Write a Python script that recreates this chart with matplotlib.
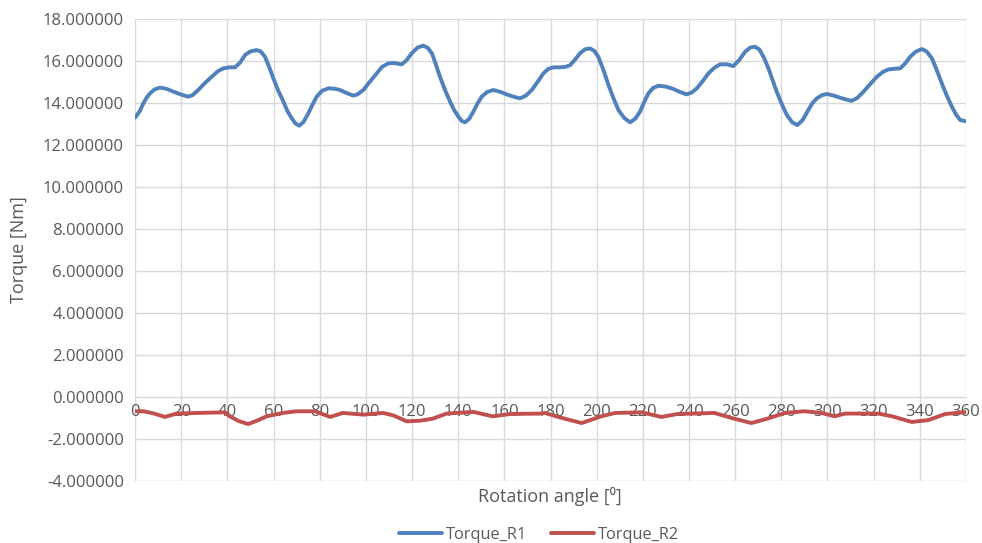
import matplotlib
matplotlib.use("Agg")
import matplotlib.pyplot as plt

# values
angle_r1 = [0, 2, 3.6, 5, 6.5, 8.5, 10.8, 13.5, 16.6, 20, 23, 25, 27.4, 30, 33.2, 36, 38.3,
            41, 43.3, 45.5, 47.7, 50, 52.7, 54.5, 56.3, 58, 59.9, 62, 64.3, 66, 67.9, 69.5,
            71.2, 73, 75.1, 77, 78.7, 81, 83.8, 86.5, 88.8, 91.5, 94.6, 96.5, 98.9, 101.5,
            104.7, 107, 109.8, 112.5, 115.5, 117.5, 119.9, 122.5, 124.9, 126.8, 128.6,
            130.3, 132.1, 134.3, 136.5, 138.3, 140.1, 141.5, 143, 144.8, 146.6, 148.4,
            150.2, 152.5, 155.2, 158, 161, 164, 166.8, 169.3, 171.9, 174.5, 176.9, 179,
            181.2, 184.1, 186.5, 188.5, 190.5, 192.8, 195, 197.1, 199, 200.7, 203, 205.1,
            207.3, 209.4, 212, 214.5, 216.7, 218.8, 220.6, 222.4, 224.5, 226.8, 230, 233.2,
            236, 239, 241.2, 243.4, 246, 248.4, 251, 253.5, 256.5, 259.2, 261.8, 264.3,
            266.5, 268.6, 270.5, 272.5, 274.4, 276.2, 278, 280.2, 282.4, 284.7, 287, 289.3,
            291.7, 293.5, 295.4, 297.5, 299.7, 302.5, 305.5, 308, 310.5, 313, 315.6, 318.5,
            321.4, 324, 326.4, 329, 331.5, 333.6, 335.8, 338.3, 340.9, 343, 345.2, 347.3,
            349.5, 351.7, 353.9, 355.7, 357.5, 360]
torque_r1 = [13.30, 13.60, 13.98, 14.25, 14.46, 14.65, 14.73, 14.68, 14.54, 14.40, 14.30,
             14.38, 14.62, 14.92, 15.25, 15.52, 15.65, 15.70, 15.70, 15.92, 16.29, 16.46,
             16.52, 16.45, 16.20, 15.75, 15.18, 14.60, 14.06, 13.62, 13.27, 13.02, 12.92,
             13.10, 13.51, 13.95, 14.30, 14.58, 14.70, 14.68, 14.62, 14.48, 14.35, 14.42,
             14.62, 14.98, 15.41, 15.72, 15.89, 15.90, 15.84, 16.02, 16.37, 16.65, 16.73,
             16.63, 16.37, 15.85, 15.25, 14.62, 14.06, 13.65, 13.35, 13.15, 13.08, 13.25,
             13.59, 13.98, 14.30, 14.52, 14.62, 14.54, 14.41, 14.30, 14.22, 14.35, 14.62,
             15.02, 15.41, 15.62, 15.70, 15.70, 15.72, 15.80, 16.05, 16.37, 16.56, 16.60,
             16.48, 16.20, 15.55, 14.86, 14.22, 13.67, 13.28, 13.08, 13.25, 13.59, 14.05,
             14.46, 14.72, 14.82, 14.78, 14.67, 14.53, 14.41, 14.50, 14.70, 15.05, 15.41,
             15.68, 15.84, 15.84, 15.76, 16.05, 16.44, 16.64, 16.68, 16.55, 16.15, 15.65,
             15.10, 14.54, 13.95, 13.43, 13.08, 12.95, 13.20, 13.67, 14.00, 14.22, 14.37,
             14.43, 14.36, 14.25, 14.17, 14.10, 14.25, 14.54, 14.90, 15.25, 15.48, 15.60,
             15.63, 15.65, 15.88, 16.20, 16.45, 16.57, 16.45, 16.13, 15.58, 14.94, 14.35,
             13.82, 13.45, 13.19, 13.13]

angle_r2 = [0, 3.6, 8, 13, 18, 27, 39, 41, 45, 49, 53, 57, 64, 70, 78, 84.5, 90, 99,
            107.5, 112, 117.7, 123.5, 129, 135, 146.5, 155, 162.5, 175.5, 177.6, 185,
            193.5, 202, 208, 219.5, 228, 235, 251, 258.5, 267, 274, 281.6, 290, 297.5,
            303, 307.6, 322, 328, 336.5, 343.7, 351, 360]
torque_r2 = [-0.68, -0.68, -0.78, -0.95, -0.79, -0.76, -0.73, -0.92, -1.15, -1.29, -1.12,
             -0.92, -0.76, -0.68, -0.68, -0.95, -0.76, -0.84, -0.76, -0.88, -1.16, -1.13,
             -1.03, -0.79, -0.71, -0.92, -0.81, -0.79, -0.76, -1.00, -1.24, -0.92, -0.76,
             -0.73, -0.95, -0.81, -0.76, -1.00, -1.24, -1.03, -0.76, -0.68, -0.76, -0.92,
             -0.79, -0.79, -0.92, -1.19, -1.10, -0.81, -0.72]

x_ticks = list(range(0, 361, 20))
y_ticks = list(range(-4, 19, 2))

grey = "#595959"
plt.rcParams['font.family'] = ['Open Sans', 'DejaVu Sans']

fig = plt.figure(figsize=(9.82, 5.43), dpi=100)
ax = fig.add_axes([0.1375, 0.1142, 0.8462, 0.8508])

ax.plot(angle_r1, torque_r1, color="#4F81BD", lw=2.8, label="Torque_R1",
        solid_joinstyle="round", solid_capstyle="round")
ax.plot(angle_r2, torque_r2, color="#C0504D", lw=2.8, label="Torque_R2",
        solid_joinstyle="round", solid_capstyle="round")

ax.set_xlim(0, 360)
ax.set_ylim(-4, 18)
ax.set_xticks(x_ticks)
ax.set_yticks(y_ticks)
ax.set_yticklabels(["%.6f" % v for v in y_ticks])
ax.grid(True, color="#D9D9D9", lw=1)
ax.set_axisbelow(True)

for s in ["top", "right", "left"]:
    ax.spines[s].set_visible(False)
ax.spines["bottom"].set_position(("data", 0))
ax.spines["bottom"].set_color("#D9D9D9")
ax.tick_params(axis="both", length=0, labelsize=12, labelcolor=grey)
ax.tick_params(axis="x", pad=5)
ax.tick_params(axis="y", pad=8)

ax.set_ylabel("Torque [Nm]", fontsize=13, color=grey, labelpad=11)
fig.text(0.56, 0.085, "Rotation angle [\u2070]", fontsize=13, color=grey, ha="center", va="center")

fig.legend(loc="center", bbox_to_anchor=(0.549, 0.015), ncol=2, frameon=False,
           fontsize=11.8, labelcolor=grey, handlelength=2.6, handletextpad=0.25,
           columnspacing=1.45)

fig.savefig("out.png", dpi=100)
